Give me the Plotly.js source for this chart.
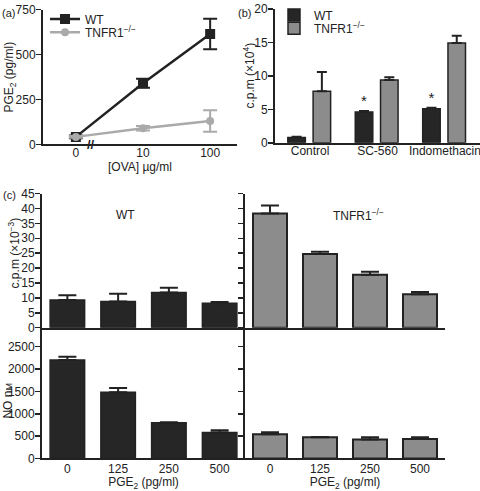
<!DOCTYPE html>
<html>
<head>
<meta charset="utf-8">
<script src="https://cdn.plot.ly/plotly-3.0.1.min.js"></script>
<style>html,body{margin:0;padding:0;background:#fff;}#chart{width:480px;height:491px;}</style>
</head>
<body>
<div id="chart"></div>
<script>
// ---- data ----
const doses = ['0', '10', '100'];
const wtPGE = [42, 340, 615];
const wtPGEErr = [8, 25, 85];
const koPGE = [42, 90, 130];
const koPGEErr = [5, 12, 60];

const treatments = ['Control', 'SC-560', 'Indomethacin'];
const wtCpmB = [0.8, 4.6, 5.1];
const wtCpmBErr = [0.1, 0.15, 0.15];
const koCpmB = [7.7, 9.4, 14.9];
const koCpmBErr = [2.9, 0.4, 1.1];
const wtStars = ['', '*', '*'];

const pgeDoses = ['0', '125', '250', '500'];
const wtCpmC = [9.3, 8.8, 11.8, 8.2];
const wtCpmCErr = [1.6, 2.6, 1.6, 0.4];
const koCpmC = [38.3, 24.7, 17.8, 11.2];
const koCpmCErr = [2.7, 0.8, 1.0, 0.8];
const wtNO = [2200, 1480, 800, 580];
const wtNOErr = [75, 95, 10, 50];
const koNO = [540, 475, 425, 435];
const koNOErr = [45, 5, 50, 40];

// ---- styling helpers ----
const W = 480, H = 491;
const px = v => v / W;
const py = v => 1 - v / H;
const INK = '#222';
const BLACK = '#262626';
const GREY = '#8c8c8c';
const LGREY = '#aaaaaa';
const FONT = 'Liberation Sans, Arial, sans-serif';
const zeros = n => new Array(n).fill(0);

function axisBase(extra) {
  return Object.assign({
    showline: true, linewidth: 2, linecolor: INK,
    ticks: 'outside', ticklen: 5, tickwidth: 1.5, tickcolor: INK,
    showgrid: false, zeroline: false, fixedrange: true,
    tickfont: {family: FONT, size: 12, color: INK}
  }, extra);
}
function yAxis(extra) {
  return axisBase(Object.assign({ticklabelstandoff: -2}, extra));
}

function upErr(arr, w) {
  return {type: 'data', symmetric: false, array: arr, arrayminus: zeros(arr.length),
          color: INK, thickness: 2, width: w};
}

const traces = [
  // (a)
  {type: 'scatter', mode: 'lines+markers', x: doses, y: wtPGE, name: 'WT',
   xaxis: 'x', yaxis: 'y', legend: 'legend',
   line: {color: INK, width: 2.5}, marker: {symbol: 'square', size: 10, color: INK},
   error_y: {type: 'data', array: wtPGEErr, color: INK, thickness: 2, width: 7}},
  {type: 'scatter', mode: 'lines+markers', x: doses, y: koPGE, name: 'TNFR1<sup>−/−</sup>',
   xaxis: 'x', yaxis: 'y', legend: 'legend3',
   line: {color: LGREY, width: 2.5}, marker: {symbol: 'circle', size: 8, color: LGREY},
   error_y: {type: 'data', array: koPGEErr, color: LGREY, thickness: 2, width: 7}},
  // (b)
  {type: 'bar', x: treatments, y: wtCpmB, name: 'WT', xaxis: 'x2', yaxis: 'y2', legend: 'legend2',
   width: 0.26, offset: -0.33,
   marker: {color: BLACK, line: {color: INK, width: 1.5}},
   text: wtStars, textposition: 'outside', cliponaxis: false,
   textfont: {family: FONT, size: 15, color: INK},
   error_y: upErr(wtCpmBErr, 5)},
  {type: 'bar', x: treatments, y: koCpmB, name: 'TNFR1<sup>−/−</sup>', xaxis: 'x2', yaxis: 'y2', legend: 'legend4',
   width: 0.26, offset: 0.045,
   marker: {color: GREY, line: {color: INK, width: 1.5}},
   error_y: upErr(koCpmBErr, 5)},
  // (c) upper left / right
  {type: 'bar', x: pgeDoses, y: wtCpmC, xaxis: 'x3', yaxis: 'y3', showlegend: false, width: 0.68,
   marker: {color: BLACK, line: {color: INK, width: 1.5}}, error_y: upErr(wtCpmCErr, 9)},
  {type: 'bar', x: pgeDoses, y: koCpmC, xaxis: 'x4', yaxis: 'y4', showlegend: false, width: 0.68,
   marker: {color: GREY, line: {color: INK, width: 2}}, error_y: upErr(koCpmCErr, 9)},
  // (c) lower left / right
  {type: 'bar', x: pgeDoses, y: wtNO, xaxis: 'x5', yaxis: 'y5', showlegend: false, width: 0.68,
   marker: {color: BLACK, line: {color: INK, width: 1.5}}, error_y: upErr(wtNOErr, 9)},
  {type: 'bar', x: pgeDoses, y: koNO, xaxis: 'x6', yaxis: 'y6', showlegend: false, width: 0.68,
   marker: {color: GREY, line: {color: INK, width: 2}}, error_y: upErr(koNOErr, 9)}
];

const titleFont = {family: FONT, size: 12, color: INK};
const upperY = [py(326.7), py(191.7)];
const lowerY = [py(458.3), py(326.7)];
const leftX = [px(42), px(245)];
const rightX = [px(245), px(445)];

function legendAt(x, y) {
  return {x: px(x), y: py(y), xanchor: 'left', yanchor: 'middle', bgcolor: 'rgba(0,0,0,0)',
    font: {family: FONT, size: 12, color: INK}, tracegroupgap: 0, itemwidth: 30};
}
function yTitle(text, x, y) {
  return {text: text, xref: 'paper', yref: 'paper', x: px(x), y: py(y), xanchor: 'center', yanchor: 'middle',
    textangle: -90, showarrow: false, font: titleFont};
}
function label(text, x, y, anchor, size) {
  return {text: text, xref: 'paper', yref: 'paper', x: px(x), y: py(y), xanchor: anchor || 'left', yanchor: 'middle',
    showarrow: false, font: {family: FONT, size: size || 12, color: INK}};
}

const layout = {
  width: W, height: H,
  margin: {l: 0, r: 0, t: 0, b: 0},
  paper_bgcolor: '#fff', plot_bgcolor: 'rgba(0,0,0,0)',
  font: {family: FONT, size: 12, color: INK},
  barmode: 'group',
  showlegend: true,
  // (a)
  xaxis: axisBase({domain: [px(43), px(237)], anchor: 'y', type: 'category',
    categoryorder: 'array', categoryarray: doses, range: [-0.49, 2.4], ticks: '', ticklabelstandoff: -4,
    title: {text: '[OVA] µg/ml', font: titleFont, standoff: 2}}),
  yaxis: yAxis({domain: [py(142.3), py(6.7)], anchor: 'x', range: [0, 750],
    tickvals: [0, 250, 500, 750]}),
  // (b)
  xaxis2: axisBase({domain: [px(275), 1], anchor: 'y2', type: 'category', ticklabelstandoff: -4,
    categoryorder: 'array', categoryarray: treatments, range: [-0.52, 2.52], ticks: ''}),
  yaxis2: yAxis({domain: [py(140.7), py(6)], anchor: 'x2', range: [0, 20], dtick: 5}),
  // (c) upper left
  xaxis3: axisBase({domain: leftX, anchor: 'y3', type: 'category', range: [-0.5, 3.5],
    ticks: '', showticklabels: false}),
  yaxis3: yAxis({domain: upperY, anchor: 'x3', range: [0, 45], dtick: 5}),
  // (c) upper right
  xaxis4: axisBase({domain: rightX, anchor: 'y4', type: 'category', range: [-0.5, 3.5],
    ticks: '', showticklabels: false}),
  yaxis4: axisBase({domain: upperY, anchor: 'x4', range: [0, 45], dtick: 5, showticklabels: false}),
  // (c) lower left
  xaxis5: axisBase({domain: leftX, anchor: 'y5', type: 'category', range: [-0.5, 3.5], ticks: '',
    ticklabelstandoff: -2, title: {text: 'PGE<sub>2</sub> (pg/ml)', font: titleFont, standoff: 5}}),
  yaxis5: yAxis({domain: lowerY, anchor: 'x5', range: [0, 2924], dtick: 500}),
  // (c) lower right
  xaxis6: axisBase({domain: rightX, anchor: 'y6', type: 'category', range: [-0.5, 3.5], ticks: '',
    ticklabelstandoff: -2, title: {text: 'PGE<sub>2</sub> (pg/ml)', font: titleFont, standoff: 5}}),
  yaxis6: axisBase({domain: lowerY, anchor: 'x6', range: [0, 2924], dtick: 500, showticklabels: false}),
  legend: legendAt(45, 16),
  legend3: legendAt(45, 29.5),
  legend2: legendAt(274, 12),
  legend4: legendAt(274, 25.5),
  annotations: [
    label('(a)', 0, 10, 'left', 11),
    label('(b)', 236, 10, 'left', 11),
    label('(c)', 1, 193, 'left', 11),
    label('WT', 125, 213, 'center'),
    label('TNFR1<sup>−/−</sup>', 358, 213, 'center'),
    yTitle('PGE<sub>2</sub> (pg/ml)', 10, 75),
    yTitle('c.p.m (×10<sup>4</sup>)', 249, 73),
    yTitle('c.p.m (×10<sup>−3</sup>)', 14, 252),
    yTitle('NO n<span style="font-size:9px">M</span>', 8, 400),
    {text: '<b>//</b>', xref: 'x', yref: 'y', x: 0.22, y: 0, xanchor: 'center', yanchor: 'middle',
     showarrow: false, bgcolor: 'rgba(0,0,0,0)', font: {family: FONT, size: 13, color: INK}}
  ]
};

Plotly.newPlot('chart', traces, layout, {staticPlot: true, displayModeBar: false});
</script>
</body>
</html>
